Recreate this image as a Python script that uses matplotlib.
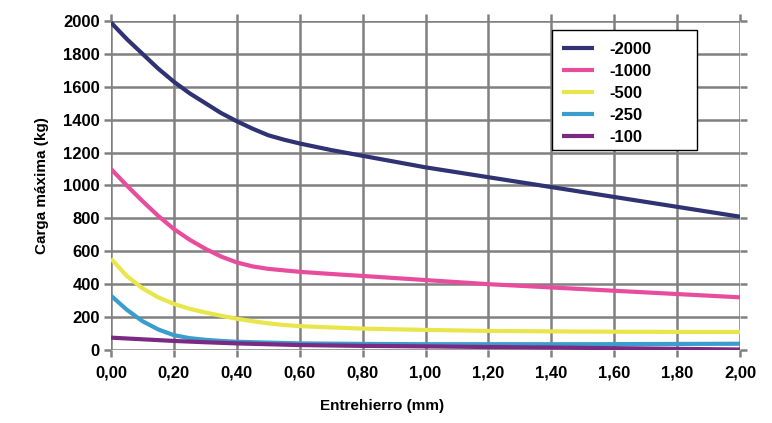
import matplotlib.pyplot as plt
from matplotlib import font_manager
from matplotlib.patches import Rectangle

names = {f.name for f in font_manager.fontManager.ttflist}
fam = 'Liberation Sans Narrow' if 'Liberation Sans Narrow' in names else 'Liberation Sans'
plt.rcParams['font.family'] = [fam, 'DejaVu Sans']
plt.rcParams['font.weight'] = 'bold'

# data
x_2000 = [0.0, 0.05, 0.1, 0.15, 0.2, 0.25, 0.3, 0.35, 0.4, 0.45, 0.5, 0.55, 0.6, 0.7, 0.8, 1.0, 1.2, 1.4, 1.6, 1.8, 2.0]
y_2000 = [1990, 1890, 1800, 1710, 1630, 1560, 1500, 1440, 1390, 1345, 1305, 1278, 1255, 1215, 1180, 1110, 1050, 990, 930, 870, 810]

x_1000 = [0.0, 0.05, 0.1, 0.15, 0.2, 0.25, 0.3, 0.35, 0.4, 0.45, 0.5, 0.6, 0.7, 0.8, 1.0, 1.2, 1.4, 1.6, 1.8, 2.0]
y_1000 = [1100, 1000, 905, 815, 735, 670, 615, 568, 532, 508, 493, 475, 462, 450, 425, 400, 380, 360, 340, 320]

x_500 = [0.0, 0.05, 0.1, 0.15, 0.2, 0.25, 0.3, 0.35, 0.4, 0.45, 0.5, 0.55, 0.6, 0.7, 0.8, 1.0, 1.2, 1.4, 1.6, 1.8, 2.0]
y_500 = [555, 450, 375, 320, 280, 250, 228, 208, 190, 175, 162, 152, 145, 137, 130, 122, 116, 113, 111, 110, 110]

x_250 = [0.0, 0.05, 0.1, 0.15, 0.2, 0.25, 0.3, 0.35, 0.4, 0.5, 0.6, 0.8, 1.0, 1.5, 2.0]
y_250 = [330, 245, 175, 125, 90, 72, 62, 55, 50, 45, 40, 37, 35, 35, 38]

x_100 = [0.0, 0.1, 0.2, 0.3, 0.4, 0.6, 0.8, 1.0, 1.2, 1.4, 1.6, 1.8, 2.0]
y_100 = [75, 65, 55, 47, 40, 30, 25, 22, 18, 15, 11, 7, 3]

series = [
    ('-2000', x_2000, y_2000, '#2f3273'),
    ('-1000', x_1000, y_1000, '#e84c9c'),
    ('-500', x_500, y_500, '#e8e64a'),
    ('-250', x_250, y_250, '#3b9dcb'),
    ('-100', x_100, y_100, '#7b2a84'),
]

fig = plt.figure(figsize=(7.72, 4.23), dpi=100)
ax = fig.add_axes([0.1438, 0.1726, 0.8148, 0.778])

for label, xs, ys, c in series:
    ax.plot(xs, ys, color=c, lw=3, label=label, solid_capstyle='butt',
            solid_joinstyle='round', zorder=3)

ax.set_xlim(0, 2.0)
ax.set_ylim(0, 2000)
xt = [i * 0.2 for i in range(11)]
ax.set_xticks(xt)
ax.set_xticklabels([('%.2f' % v).replace('.', ',') for v in xt])
ax.set_yticks(range(0, 2001, 200))

ax.grid(True, color='#808080', lw=1.8)
for s in ax.spines.values():
    s.set_visible(False)
ax.tick_params(axis='both', which='both', direction='out', color='#808080',
               width=1.8, labelsize=12)
ax.tick_params(axis='y', length=5, left=True, right=True, pad=3)
ax.tick_params(axis='x', length=5, bottom=True, top=True, pad=6)

fig.text(0.495, 0.03, 'Entrehierro (mm)', fontsize=11, fontweight='bold', ha='center')
ax.set_ylabel('Carga máxima (kg)', fontsize=11, fontweight='bold', labelpad=10)

# legend box drawn separately so it can be wider than its contents
box = Rectangle((0.715, 0.6454), 0.1878, 0.2837, transform=fig.transFigure,
                facecolor='white', edgecolor='black', lw=1.0, zorder=4,
                clip_on=False)
ax.add_patch(box)
leg = ax.legend(loc='upper left', bbox_to_anchor=(0.724, 0.908),
                bbox_transform=fig.transFigure, fontsize=12, frameon=False,
                handlelength=1.9, labelspacing=0.42, borderpad=0.2,
                handletextpad=0.9, borderaxespad=0)
leg.set_zorder(5)

fig.savefig('out.png', dpi=100, facecolor='white')
